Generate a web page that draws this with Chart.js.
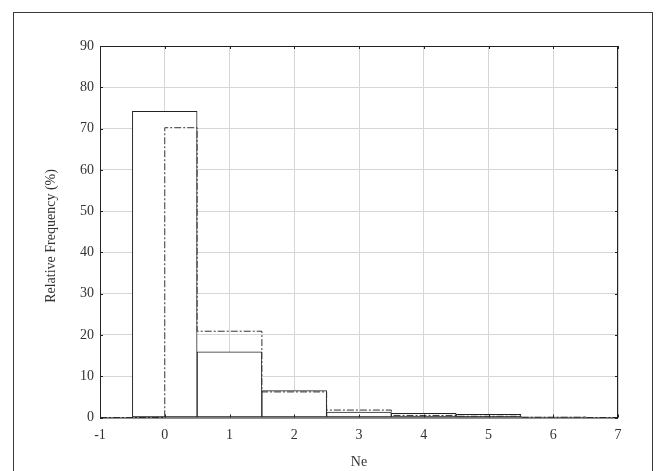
<!DOCTYPE html>
<html>
<head>
<meta charset="utf-8">
<script src="https://cdn.jsdelivr.net/npm/chart.js@4.4.0/dist/chart.umd.min.js"></script>
<style>
  html, body { margin: 0; padding: 0; background: #fff; overflow: hidden; }
  #wrap { position: relative; width: 658px; height: 471px; }
  #frame { position: absolute; left: 13px; top: 12px; width: 640px; height: 480px; border: 1.5px solid #3a3a3a; box-sizing: border-box; }
  canvas { position: absolute; left: 0; top: 0; }
</style>
</head>
<body>
<div id="wrap">
  <div id="frame"></div>
  <canvas id="c" width="658" height="471"></canvas>
</div>
<script>
// Data
const categories = [0, 1, 2, 3, 4, 5, 6];               // Ne bins
const solidValues = [74.2, 15.9, 6.5, 1.3, 1.0, 0.78, 0.2];   // solid histogram (%)
const dashedValues = [70.2, 20.9, 6.2, 1.8, 0.5, 0.3, 0.05];  // dash-dot step line (%)
const xTicks = [-1, 0, 1, 2, 3, 4, 5, 6, 7];
const yTicks = [0, 10, 20, 30, 40, 50, 60, 70, 80, 90];
const xTitle = 'Ne';
const yTitle = 'Relative Frequency (%)';

const FONT = "'Liberation Serif', 'DejaVu Serif', serif";

// Build step path for the dashed series from bin values
const stepPoints = [{x: xTicks[0], y: 0}, {x: categories[0], y: 0}];
dashedValues.forEach((v, i) => {
  const left = i === 0 ? categories[0] : categories[i] - 0.5;
  stepPoints.push({x: left, y: v});
  stepPoints.push({x: categories[i] + 0.5, y: v});
});
stepPoints.push({x: categories[categories.length - 1] + 0.5, y: 0});
stepPoints.push({x: xTicks[xTicks.length - 1], y: 0});

const boxPlugin = {
  id: 'boxPlugin',
  afterDraw(chart) {
    const {ctx, chartArea: a, scales} = chart;
    ctx.save();
    ctx.strokeStyle = '#222';
    ctx.lineWidth = 1;
    ctx.strokeRect(a.left + 0.5, a.top + 0.5, a.right - a.left - 1, a.bottom - a.top);
    // inward ticks
    const tl = 3;
    ctx.beginPath();
    xTicks.forEach(t => {
      const px = Math.round(scales.x.getPixelForValue(t)) + 0.5;
      ctx.moveTo(px, a.bottom); ctx.lineTo(px, a.bottom - tl);
      ctx.moveTo(px, a.top); ctx.lineTo(px, a.top + tl);
    });
    yTicks.forEach(t => {
      const py = Math.round(scales.y.getPixelForValue(t)) + 0.5;
      ctx.moveTo(a.left, py); ctx.lineTo(a.left + tl, py);
      ctx.moveTo(a.right, py); ctx.lineTo(a.right - tl, py);
    });
    ctx.stroke();
    // titles
    ctx.fillStyle = '#333';
    ctx.font = '14px ' + FONT;
    ctx.textAlign = 'center';
    ctx.textBaseline = 'middle';
    ctx.fillText(xTitle, (a.left + a.right) / 2, 462);
    ctx.translate(51, 236);
    ctx.rotate(-Math.PI / 2);
    ctx.fillText(yTitle, 0, 0);
    ctx.restore();
  }
};

new Chart(document.getElementById('c'), {
  type: 'bar',
  data: {
    datasets: [
      {
        type: 'line',
        data: stepPoints,
        borderColor: '#333',
        borderWidth: 1,
        borderDash: [7, 2, 2, 2],
        pointRadius: 0,
        fill: false,
        tension: 0,
        clip: false,
        order: 0
      },
      {
        type: 'bar',
        data: categories.map((c, i) => ({x: c, y: solidValues[i]})),
        backgroundColor: '#fff',
        borderColor: '#222',
        borderWidth: 1,
        borderSkipped: false,
        barPercentage: 1,
        categoryPercentage: 1,
        order: 1
      }
    ]
  },
  options: {
    responsive: false,
    animation: false,
    events: [],
    layout: { padding: { left: 0, top: 46, right: 40, bottom: 0 } },
    plugins: { legend: { display: false }, tooltip: { enabled: false } },
    scales: {
      x: {
        type: 'linear',
        min: -1, max: 7,
        offset: false,
        afterFit(s) { s.height = 53.5; },
        afterBuildTicks(s) { s.ticks = xTicks.map(v => ({value: v})); },
        grid: { color: '#d6d6d6', lineWidth: 1, drawTicks: false, offset: false },
        border: { display: false },
        ticks: { padding: 9, color: '#333', font: { family: FONT, size: 14 } }
      },
      y: {
        type: 'linear',
        min: 0, max: 90,
        afterFit(s) { s.width = 100; },
        afterBuildTicks(s) { s.ticks = yTicks.map(v => ({value: v})); },
        grid: { color: '#d6d6d6', lineWidth: 1, drawTicks: false },
        border: { display: false },
        ticks: { padding: 6, color: '#333', font: { family: FONT, size: 14 } }
      }
    }
  },
  plugins: [boxPlugin]
});
</script>
</body>
</html>
